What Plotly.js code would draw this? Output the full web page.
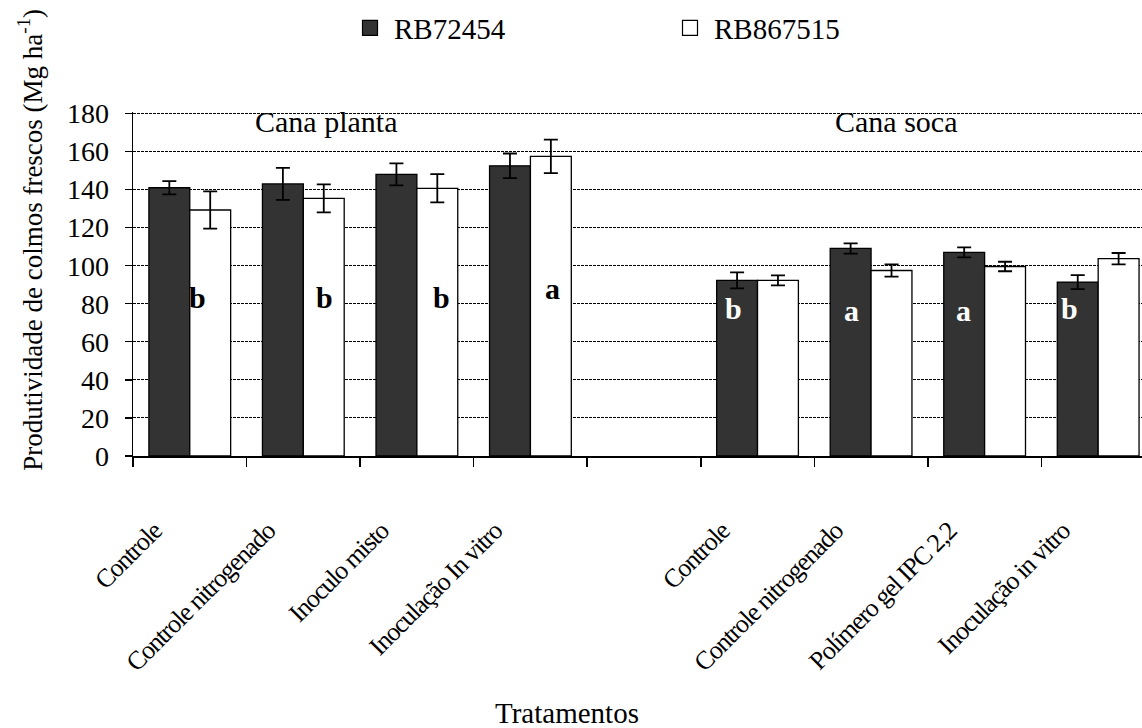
<!DOCTYPE html>
<html>
<head>
<meta charset="utf-8">
<script src="https://cdn.plot.ly/plotly-3.0.1.min.js"></script>
<style>
  html, body { margin: 0; padding: 0; background: #fff; overflow: hidden; }
  #chart { width: 1142px; height: 728px; }
  #chart .xtick text { letter-spacing: -1.2px; }
</style>
</head>
<body>
<div id="chart"></div>
<script>
// Treatments of each crop cycle
const plantaTreatments = ['Controle', 'Controle nitrogenado', 'Inoculo misto', 'Inoculação In vitro'];
const socaTreatments = ['Controle', 'Controle nitrogenado', 'Polímero gel IPC 2,2', 'Inoculação in vitro'];
const cycleNames = ['Cana planta', 'Cana soca'];
const varieties = ['RB72454', 'RB867515'];

// Fresh stalk yield (Mg ha-1) and error bars
const rb72454Planta = [141, 143, 148, 152.5];
const rb72454PlantaErr = [3.5, 8.4, 5.8, 6.5];
const rb867515Planta = [129.3, 135.4, 140.7, 157.5];
const rb867515PlantaErr = [9.8, 7.4, 7.4, 8.8];
const rb72454Soca = [92.3, 109.1, 107, 91.4];
const rb72454SocaErr = [4.2, 2.7, 2.6, 3.7];
const rb867515Soca = [92.3, 97.5, 99.6, 103.7];
const rb867515SocaErr = [2.6, 3.2, 2.5, 3.0];

// Mean comparison letters (planta: RB867515, soca: RB72454)
const lettersPlanta = ['b', 'b', 'b', 'a'];
const lettersSoca = ['b', 'a', 'a', 'b'];

const yTicks = [0, 20, 40, 60, 80, 100, 120, 140, 160, 180];

// unique category keys so that repeated treatment names stay separate
const plantaKeys = plantaTreatments.map(t => 'planta|' + t);
const socaKeys = socaTreatments.map(t => 'soca|' + t);
const spacerKey = 'spacer';
const allKeys = [...plantaKeys, spacerKey, ...socaKeys];
const allLabels = [...plantaTreatments, ' ', ...socaTreatments];
const barKeys = [...plantaKeys, ...socaKeys];

const FONT = '"Liberation Serif", "Times New Roman", serif';
const DARK = '#333333';
const fills = [DARK, '#ffffff'];

const traces = [
  {
    type: 'bar', name: varieties[0], legendgroup: 'v0', showlegend: false,
    x: barKeys,
    y: [...rb72454Planta, ...rb72454Soca],
    marker: { color: fills[0], line: { color: '#000', width: 1.3 } },
    error_y: { type: 'data', array: [...rb72454PlantaErr, ...rb72454SocaErr], color: '#000', thickness: 1.8, width: 7 },
    hoverinfo: 'y'
  },
  {
    type: 'bar', name: varieties[1], legendgroup: 'v1', showlegend: false,
    x: barKeys,
    y: [...rb867515Planta, ...rb867515Soca],
    marker: { color: fills[1], line: { color: '#000', width: 1.3 } },
    error_y: { type: 'data', array: [...rb867515PlantaErr, ...rb867515SocaErr], color: '#000', thickness: 1.8, width: 7 },
    hoverinfo: 'y'
  }
];
// legend keys drawn as larger squares
varieties.forEach((v, i) => traces.push({
  type: 'scatter', mode: 'markers', name: v, legendgroup: 'v' + i,
  x: [null], y: [null],
  marker: { symbol: 'square', size: 15, color: fills[i], line: { color: '#000', width: 1.2 } },
  hoverinfo: 'skip'
}));

// letter placement: pixel offsets from category centre
const plantaLetterShift = [8, 21, 25, 22];
const plantaLetterY = [0.462, 0.462, 0.462, 0.486];
const socaLetterShift = [-24, -20, -21, -29];
const socaLetterY = [0.430, 0.424, 0.424, 0.430];

const annotations = [];
lettersPlanta.forEach((L, i) => annotations.push({
  x: plantaKeys[i], xref: 'x', xshift: plantaLetterShift[i], xanchor: 'center',
  y: plantaLetterY[i], yref: 'paper', yanchor: 'middle',
  text: '<b>' + L + '</b>', showarrow: false,
  font: { family: FONT, size: 30, color: '#000' }
}));
lettersSoca.forEach((L, i) => annotations.push({
  x: socaKeys[i], xref: 'x', xshift: socaLetterShift[i], xanchor: 'center',
  y: socaLetterY[i], yref: 'paper', yanchor: 'middle',
  text: '<b>' + L + '</b>', showarrow: false,
  font: { family: FONT, size: 30, color: '#ffffff' }
}));
// crop cycle headings
annotations.push({
  x: 0.1913, xref: 'paper', xanchor: 'center', y: 0.971, yref: 'paper', yanchor: 'middle',
  text: cycleNames[0], showarrow: false, font: { family: FONT, size: 30, color: '#000' }
});
annotations.push({
  x: 0.7562, xref: 'paper', xanchor: 'center', y: 0.971, yref: 'paper', yanchor: 'middle',
  text: cycleNames[1], showarrow: false, font: { family: FONT, size: 30, color: '#000' }
});
// axis titles
annotations.push({
  x: -0.102, xref: 'paper', y: 0.6287, yref: 'paper', xanchor: 'center', yanchor: 'middle',
  textangle: -90, text: 'Produtividade de colmos frescos (Mg ha<sup>-1</sup>)', showarrow: false,
  font: { family: FONT, size: 27, color: '#000' }
});
annotations.push({
  x: 0.430, xref: 'paper', y: -0.747, yref: 'paper', xanchor: 'center', yanchor: 'middle',
  text: 'Tratamentos', showarrow: false, font: { family: FONT, size: 29, color: '#000' }
});

const layout = {
  width: 1142, height: 728,
  margin: { l: 133, r: 0, t: 112, b: 272 },
  paper_bgcolor: '#fff', plot_bgcolor: '#fff',
  font: { family: FONT, color: '#000' },
  barmode: 'group', bargap: 0.28, bargroupgap: 0,
  showlegend: true,
  legend: {
    orientation: 'h', xref: 'container', yref: 'container',
    x: 346 / 1142, xanchor: 'left', y: 1 - 28 / 728, yanchor: 'middle',
    font: { family: FONT, size: 29, color: '#000' },
    itemwidth: 38, entrywidth: 267, traceorder: 'normal', bgcolor: 'rgba(0,0,0,0)'
  },
  xaxis: {
    type: 'category', categoryorder: 'array', categoryarray: allKeys,
    tickmode: 'array', tickvals: allKeys, ticktext: allLabels,
    range: [-0.5, 8.386], tickson: 'boundaries',
    ticks: 'outside', ticklen: 9, tickwidth: 1.5, tickcolor: '#000',
    tickangle: -45, ticklabelshift: -36, ticklabelstandoff: 48,
    tickfont: { family: FONT, size: 26, color: '#000' },
    showline: true, linecolor: '#000', linewidth: 1.5,
    showgrid: false, zeroline: false, automargin: false, fixedrange: true
  },
  yaxis: {
    range: [0, 180.8], tickmode: 'array', tickvals: yTicks,
    ticks: 'outside', ticklen: 7, tickwidth: 1.3, tickcolor: '#000',
    ticklabelstandoff: 10,
    tickfont: { family: FONT, size: 28, color: '#000' },
    showline: true, linecolor: '#000', linewidth: 1.5,
    showgrid: true, gridcolor: '#000', gridwidth: 1, griddash: '3px,1px',
    zeroline: false, automargin: false, fixedrange: true
  },
  annotations: annotations
};

Plotly.newPlot('chart', traces, layout, { staticPlot: true, displayModeBar: false });
</script>
</body>
</html>
